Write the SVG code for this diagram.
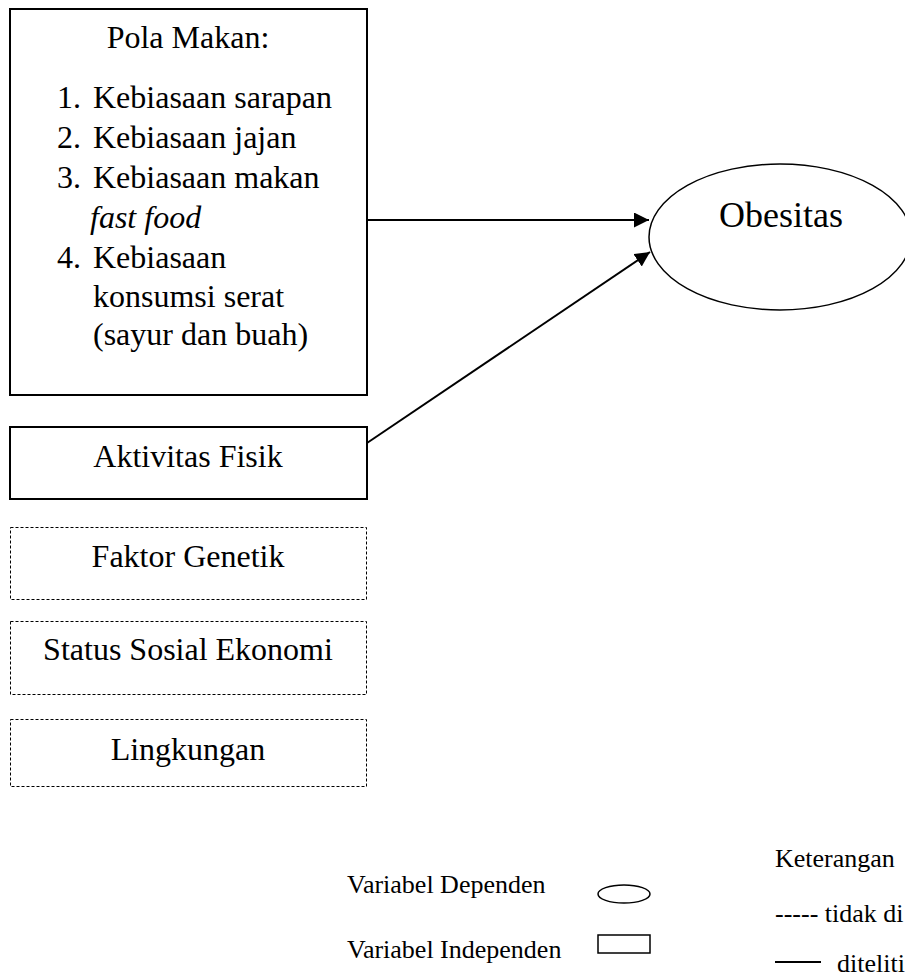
<svg xmlns="http://www.w3.org/2000/svg" width="905" height="979" viewBox="0 0 905 979">
<defs>
<style>
.t{font-family:"Liberation Serif","Times New Roman",serif;fill:#000}
.n{font-size:32px}
.c{text-anchor:middle}
.lg{font-size:26px}
.box{fill:#fff;stroke:#000;stroke-width:2}
.dash{fill:#fff;stroke:#000;stroke-width:1;stroke-dasharray:3,2}
.conn{stroke:#000;stroke-width:2;fill:none}
</style>
<marker id="ah" markerWidth="16" markerHeight="16" refX="15" refY="7.5" orient="auto" markerUnits="userSpaceOnUse">
<path d="M0,0 L15,7.5 L0,15 Z" fill="#000"/>
</marker>
</defs>
<rect width="905" height="979" fill="#fff"/>
<g id="pola-makan">
<rect class="box" x="10" y="9" width="357" height="386"/>
<text class="t n c" x="188" y="48">Pola Makan:</text>
<text class="t n" x="57" y="108">1.</text>
<text class="t n" x="93" y="108">Kebiasaan sarapan</text>
<text class="t n" x="57" y="148">2.</text>
<text class="t n" x="93" y="148">Kebiasaan jajan</text>
<text class="t n" x="57" y="188">3.</text>
<text class="t n" x="93" y="188">Kebiasaan makan</text>
<text class="t n" x="90" y="228" font-style="italic">fast food</text>
<text class="t n" x="57" y="268">4.</text>
<text class="t n" x="93" y="268">Kebiasaan</text>
<text class="t n" x="93" y="307">konsumsi serat</text>
<text class="t n" x="93" y="345">(sayur dan buah)</text>
</g>
<g id="aktivitas-fisik">
<rect class="box" x="10" y="427" width="357" height="72"/>
<text class="t n c" x="188" y="467">Aktivitas Fisik</text>
</g>
<g id="faktor-genetik">
<rect class="dash" x="10.5" y="527.5" width="356" height="72"/>
<text class="t n c" x="188" y="567">Faktor Genetik</text>
</g>
<g id="status-sosial">
<rect class="dash" x="10.5" y="621.5" width="356" height="73"/>
<text class="t n c" x="188" y="660">Status Sosial Ekonomi</text>
</g>
<g id="lingkungan">
<rect class="dash" x="10.5" y="719.5" width="356" height="67"/>
<text class="t n c" x="188" y="760">Lingkungan</text>
</g>
<g id="obesitas">
<ellipse cx="780" cy="237" rx="131" ry="73" fill="#fff" stroke="#000" stroke-width="1.5"/>
<text class="t c" x="781" y="227" font-size="36">Obesitas</text>
</g>
<g id="connectors">
<line class="conn" x1="367" y1="220" x2="649" y2="220" marker-end="url(#ah)"/>
<line class="conn" x1="367" y1="443" x2="650" y2="252" marker-end="url(#ah)"/>
</g>
<g id="legend">
<text class="t lg" x="347" y="893">Variabel Dependen</text>
<ellipse cx="624" cy="894" rx="26" ry="9" fill="none" stroke="#000" stroke-width="1.5"/>
<text class="t lg" x="347" y="958">Variabel Independen</text>
<rect x="598" y="935" width="52" height="18" fill="none" stroke="#000" stroke-width="1.5"/>
<text class="t lg" x="775" y="867">Keterangan</text>
<text class="t lg" x="775" y="922">----- tidak di</text>
<line x1="775" y1="962" x2="821" y2="962" stroke="#000" stroke-width="2"/>
<text class="t lg" x="837" y="972">diteliti</text>
</g>
</svg>
